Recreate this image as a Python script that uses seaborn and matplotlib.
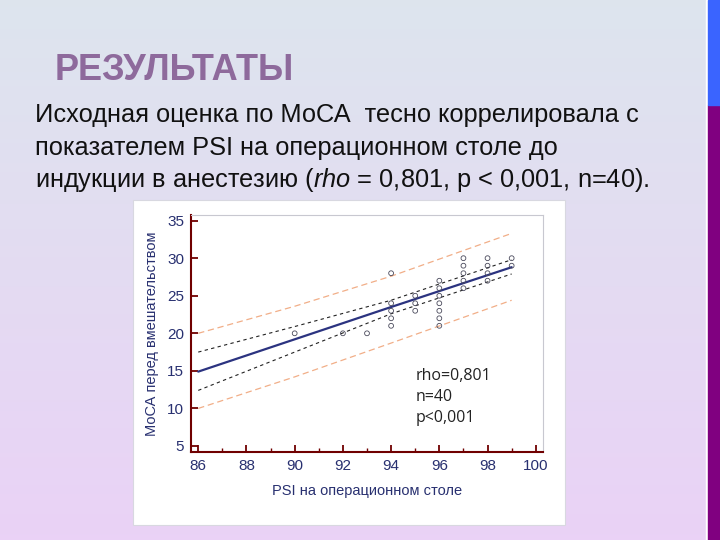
import numpy as np
import pandas as pd
import seaborn as sns
import matplotlib.pyplot as plt
from matplotlib.patches import Rectangle

# scatter points
psi = [90, 92, 93, 94, 94, 94, 94, 94, 95, 95, 95,
       96, 96, 96, 96, 96, 96, 96, 97, 97, 97, 97, 97,
       98, 98, 98, 98, 99, 99]
moca = [20, 20, 20, 28, 24, 23, 22, 21, 25, 24, 23,
        27, 26, 25, 24, 23, 22, 21, 30, 29, 28, 27, 26,
        30, 29, 28, 27, 30, 29]

# fitted line and bands, read at a few x positions
band_x = [86, 90, 94, 99]
fit_y = [14.9, 19.2, 23.5, 28.8]
conf_hi = [17.5, 20.9, 24.4, 29.8]
conf_lo = [12.4, 17.5, 22.6, 27.9]
pred_hi = [20.0, 23.6, 27.6, 33.3]
pred_lo = [10.0, 14.2, 18.7, 24.4]

x_ticks = [86, 88, 90, 92, 94, 96, 98, 100]
y_ticks = [5, 10, 15, 20, 25, 30, 35]
stats_lines = ["rho=0,801", "n=40", "p<0,001"]

sns.set_style("ticks")
plt.rcParams['font.family'] = ['Liberation Sans', 'DejaVu Sans']
plt.rcParams['mathtext.fontset'] = 'custom'
plt.rcParams['mathtext.rm'] = 'Liberation Sans'
plt.rcParams['mathtext.it'] = 'Liberation Sans:italic'

fig = plt.figure(figsize=(7.2, 5.4), dpi=100)

# slide background gradient
bg = fig.add_axes([0, 0, 1, 1], zorder=-10)
top = np.array([0.867, 0.898, 0.933])
bot = np.array([0.918, 0.824, 0.965])
t = np.linspace(0, 1, 256)[:, None]
grad = (top * (1 - t) + bot * t)[:, None, :]
bg.imshow(grad, aspect='auto', extent=[0, 1, 0, 1])
bg.set_axis_off()

# right edge strip
fig.patches.append(Rectangle((706 / 720, 0), 2 / 720, 1, transform=fig.transFigure,
                             color='white', zorder=-5))
fig.patches.append(Rectangle((708 / 720, 0), 12 / 720, 1 - 105 / 540, transform=fig.transFigure,
                             color='#800080', zorder=-5))
fig.patches.append(Rectangle((708 / 720, 1 - 105 / 540), 12 / 720, 105 / 540,
                             transform=fig.transFigure, color='#3a64ff', zorder=-5))

# white chart card
fig.patches.append(Rectangle((133 / 720, 1 - 525 / 540), 432 / 720, 325 / 540,
                             transform=fig.transFigure, facecolor='white',
                             edgecolor='#d8d8e0', lw=0.8, zorder=-4))

fig.text(55 / 720, 1 - 71 / 540, "РЕЗУЛЬТАТЫ", fontsize=26, fontweight='bold',
         color='#8e6a9c', va='center', ha='left',
         family=['Liberation Sans Narrow', 'Liberation Sans'])
body = ["Исходная оценка по МоСА  тесно коррелировала с",
        "показателем PSI на операционном столе до",
        "индукции в анестезию ($\\it{rho}$ = 0,801, p < 0,001, n=40)."]
for i, line in enumerate(body):
    fig.text(35 / 720, 1 - (115 + 32.5 * i) / 540, line, fontsize=18.3,
             color='#111111', va='center', ha='left')

ax = fig.add_axes([191 / 720, 1 - 452 / 540, 352 / 720, 237 / 540])
ax.set_facecolor('white')

pts = pd.DataFrame({"psi": psi, "moca": moca})
bands = pd.DataFrame({"x": band_x, "fit": fit_y, "ch": conf_hi, "cl": conf_lo,
                      "ph": pred_hi, "pl": pred_lo})

for col in ["ph", "pl"]:
    sns.lineplot(data=bands, x="x", y=col, ax=ax, color='#ee9a6a', lw=0.9,
                 linestyle=(0, (5, 3)), alpha=0.8)
for col in ["ch", "cl"]:
    sns.lineplot(data=bands, x="x", y=col, ax=ax, color='#222222', lw=0.8,
                 linestyle=(0, (3, 3)))
sns.lineplot(data=bands, x="x", y="fit", ax=ax, color='#2b3380', lw=1.6)
sns.scatterplot(data=pts, x="psi", y="moca", ax=ax, s=12, marker='o',
                facecolor='none', edgecolor='#4a4a5c', linewidth=0.6, zorder=5)

ax.set_xlim(85.7, 100.3)
ax.set_ylim(4.2, 35.75)
ax.set_xticks(x_ticks)
ax.set_xticks(np.arange(87, 100, 2), minor=True)
ax.set_yticks(y_ticks)
ax.tick_params(axis='both', which='major', direction='in', length=5, width=1.3,
               color='#700000', labelsize=11, labelcolor='#283070', pad=5)
ax.tick_params(axis='x', which='minor', direction='in', length=3, width=1.0,
               color='#700000')
for side in ['left', 'bottom']:
    ax.spines[side].set_color('#700000')
    ax.spines[side].set_linewidth(1.5)
for side in ['top', 'right']:
    ax.spines[side].set_visible(True)
    ax.spines[side].set_color('#c8c8d0')
    ax.spines[side].set_linewidth(0.8)

ax.set_xlabel("PSI на операционном столе", fontsize=10.5, color='#283070', labelpad=8)
ax.set_ylabel("МоСА перед вмешательством", fontsize=10.5, color='#283070', labelpad=6)

for i, s in enumerate(stats_lines):
    ax.text(95.0, 14.3 - 2.8 * i, s, fontsize=11.5, color='#222222', va='center',
            ha='left', family=['Open Sans', 'DejaVu Sans'])

fig.savefig("out.png", dpi=100)
